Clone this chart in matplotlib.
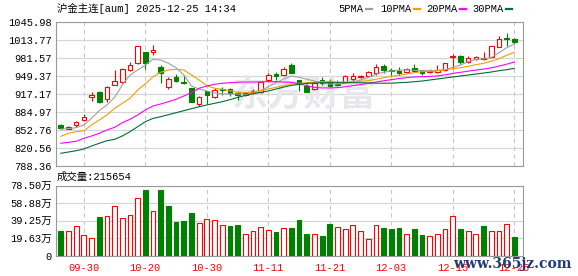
import numpy as np
import matplotlib.pyplot as plt
from matplotlib.lines import Line2D

plt.rcParams['font.family'] = ['Liberation Mono', 'Noto Sans CJK SC']
plt.rcParams['font.size'] = 7.5

# 沪金主连 日K
opens = [861.7, 855.1, 861.2, 870.1, 912.3, 921.3, 907.7, 933.3, 939.2, 960.1,
         972.1, 992.3, 991.5, 965.5, 930.2, 947.6, 939.2, 927.4, 898.8, 922.5,
         912.3, 926.6, 925.6, 918.4, 915.4, 920.7, 921.3, 942.8, 952.4, 950.6,
         969.0, 941.7, 932.0, 925.6, 942.2, 939.9, 935.0, 938.6, 944.5, 947.6,
         949.9, 955.3, 967.2, 960.1, 958.3, 956.5, 963.7, 959.6, 957.1, 957.1,
         960.1, 983.4, 985.2, 974.4, 979.8, 979.8, 982.8, 1001.9, 1017.5, 1015.6]
highs = [863.5, 859.9, 869.4, 881.4, 921.3, 923.1, 931.5, 960.1, 963.2, 974.4,
         1003.5, 993.0, 1004.8, 969.6, 948.1, 952.9, 951.2, 928.4, 913.1, 923.0,
         927.9, 930.2, 928.4, 923.1, 920.7, 926.1, 939.0, 954.2, 956.5, 966.0,
         972.1, 942.2, 935.0, 940.4, 947.6, 944.5, 942.2, 951.2, 954.2, 951.0,
         958.8, 970.8, 970.8, 963.2, 964.9, 963.2, 971.4, 960.1, 962.4, 969.0,
         972.5, 988.7, 987.5, 984.6, 985.2, 991.5, 1003.0, 1020.9, 1025.8, 1017.3]
lows = [854.0, 854.0, 858.7, 868.9, 905.2, 900.5, 903.4, 932.7, 936.9, 958.3,
        971.5, 962.4, 986.9, 936.3, 926.1, 938.1, 934.5, 902.9, 895.7, 899.3,
        910.5, 915.4, 914.1, 906.4, 913.6, 917.2, 919.5, 938.1, 941.7, 949.4,
        955.0, 923.1, 920.2, 924.9, 932.7, 930.2, 931.0, 936.9, 939.9, 945.8,
        948.1, 951.2, 955.3, 949.4, 951.7, 954.2, 956.5, 951.7, 954.2, 955.3,
        958.8, 962.4, 970.8, 973.2, 978.6, 978.6, 981.6, 1000.8, 1003.1, 1006.6]
closes = [856.9, 858.7, 867.1, 876.0, 915.4, 903.4, 929.7, 940.4, 961.4, 969.0,
          1003.0, 973.2, 996.4, 955.3, 943.5, 940.4, 937.4, 903.4, 911.8, 914.8,
          923.8, 924.3, 919.0, 914.8, 918.4, 922.5, 938.6, 951.2, 949.9, 962.4,
          955.3, 935.0, 921.3, 937.4, 936.3, 931.8, 932.5, 948.8, 949.4, 950.0,
          956.5, 964.9, 960.1, 957.8, 954.2, 962.4, 958.8, 954.2, 958.8, 960.1,
          972.1, 985.7, 974.4, 981.0, 982.8, 982.1, 1002.5, 1015.0, 1016.0, 1010.0]
pre_close = 860.0

# 成交量 (万)
vols = [28.3, 27.9, 33.6, 23.4, 20.0, 44.2, 44.9, 56.6, 42.6, 46.0,
        65.3, 73.6, 50.6, 73.6, 56.6, 38.5, 39.6, 48.7, 37.0, 41.5,
        40.4, 34.7, 34.0, 35.1, 24.5, 27.9, 32.5, 29.1, 27.2, 31.3,
        31.3, 40.8, 24.9, 24.5, 22.6, 36.2, 32.5, 30.2, 34.7, 27.9,
        18.9, 34.7, 31.3, 30.2, 31.3, 24.5, 30.2, 23.8, 22.3, 24.5,
        30.2, 44.9, 30.2, 27.9, 24.5, 34.0, 27.9, 27.9, 36.2, 21.5654]

ma5 = [854.3, 855.2, 856.9, 861.7, 873.6, 887.3, 897.5, 911.3, 933.3, 951.2,
       960.1, 969.0, 979.2, 978.0, 972.1, 964.2, 951.2, 931.5, 926.1, 922.5,
       919.0, 917.2, 917.2, 917.2, 916.0, 918.4, 923.1, 930.2, 937.4, 944.0,
       949.4, 947.0, 943.5, 940.4, 937.4, 935.0, 935.0, 936.3, 938.6, 942.2,
       947.0, 952.4, 956.0, 958.3, 959.6, 960.1, 959.6, 958.8, 958.8, 959.6,
       960.6, 964.9, 969.0, 974.9, 979.2, 980.3, 982.1, 991.0, 999.9, 1006.5]
ma10 = [841.5, 846.9, 849.7, 851.5, 861.7, 870.6, 879.6, 891.6, 900.5, 909.5,
        924.3, 935.1, 948.1, 956.0, 960.1, 961.4, 960.1, 951.2, 942.2, 932.0,
        927.4, 925.6, 923.1, 920.2, 919.5, 920.7, 923.1, 926.1, 929.1, 932.0,
        935.0, 936.3, 937.4, 938.6, 939.2, 939.9, 938.6, 938.6, 939.2, 939.9,
        941.0, 943.5, 946.3, 948.8, 950.6, 952.9, 955.3, 957.1, 957.8, 958.8,
        960.6, 962.4, 964.2, 966.7, 969.6, 972.1, 975.6, 980.3, 986.4, 991.7]
ma20 = [829.0, 830.8, 832.5, 837.9, 842.0, 846.9, 852.8, 857.6, 865.8, 871.9,
        879.6, 888.5, 895.7, 899.3, 903.4, 907.7, 913.6, 919.5, 927.4, 931.5,
        934.5, 936.3, 937.4, 938.1, 938.6, 938.6, 938.9, 939.2, 939.2, 938.6,
        938.1, 935.5, 932.0, 929.0, 928.0, 928.0, 928.5, 930.2, 932.0, 934.0,
        936.3, 938.6, 940.8, 942.8, 944.8, 946.5, 947.6, 948.1, 948.5, 949.5,
        951.5, 954.0, 956.0, 958.0, 960.0, 961.8, 964.0, 967.0, 970.5, 974.4]
ma30 = [811.1, 813.4, 815.7, 818.8, 824.1, 829.0, 833.6, 836.1, 842.0, 849.7,
        858.7, 867.6, 873.6, 876.6, 880.1, 883.7, 887.3, 890.9, 894.4, 897.5,
        900.5, 903.4, 907.0, 911.0, 914.5, 917.5, 920.0, 922.5, 926.0, 929.5,
        932.5, 934.5, 936.0, 936.8, 937.4, 937.4, 937.4, 937.4, 937.4, 937.4,
        937.0, 936.5, 936.5, 936.5, 937.4, 938.0, 939.2, 940.4, 942.2, 944.0,
        945.8, 947.6, 949.4, 951.2, 952.9, 954.7, 956.5, 958.8, 960.6, 963.1]

date_idx = [3, 11, 19, 27, 35, 43, 51, 59]
date_lbl = ['09-30', '10-20', '10-30', '11-11', '11-21', '12-03', '12-15', '12-25']
price_ticks = ['788.36', '820.56', '852.76', '884.97', '917.17',
               '949.37', '981.57', '1013.77', '1045.98']
vol_ticks = [0, 19.63, 39.25, 58.88, 78.50]

ma_names = ['5PMA', '10PMA', '20PMA', '30PMA']
ma_colors = ['#a0a0a0', '#f0a000', '#ff00ff', '#006e33']

RED = '#ff0000'
GRN = '#008000'
W, H = 578, 276


def box(l, t, r, b):
    return [l / W, 1 - b / H, (r - l) / W, (b - t) / H]


def style(a):
    for s in a.spines.values():
        s.set_color('#999999')
        s.set_linewidth(0.8)
    a.set_axisbelow(True)
    a.grid(axis='y', color='#d4d4d4', lw=0.8, ls='-')
    a.grid(axis='x', color='#c8c8c8', lw=0.8, ls=(0, (4, 3)))
    a.tick_params(length=0, pad=2.5, labelsize=7.5, colors='black')
    a.set_xlim(-0.69, 60.07)


def main():
    fig = plt.figure(figsize=(W / 100, H / 100), dpi=100)
    ax = fig.add_axes(box(55.5, 22, 522.5, 166))
    axv = fig.add_axes(box(55.5, 186, 522.5, 256))

    o = np.array(opens)
    h = np.array(highs)
    l = np.array(lows)
    c = np.array(closes)
    x = np.arange(len(c))
    up = c >= o

    # 水印
    ax.text(0.532, 0.49, '东方财富', transform=ax.transAxes, ha='center', va='center',
            fontsize=26, fontweight='bold', color='#e7e7ec', family='Noto Sans CJK SC',
            zorder=1)

    # K线
    col = np.where(up, RED, GRN)
    ax.vlines(x, l, h, colors=col, lw=0.8, zorder=2)
    body = np.maximum(np.abs(c - o), 0.3)
    ax.bar(x, body, bottom=np.minimum(o, c), width=0.6,
           facecolor=np.where(up, 'white', GRN), edgecolor=col, lw=0.8, zorder=3)

    for ma, cl in zip([ma5, ma10, ma20, ma30], ma_colors):
        ax.plot(x, ma, color=cl, lw=0.8, zorder=4)

    style(ax)
    ax.set_ylim(float(price_ticks[0]), float(price_ticks[-1]))
    ax.set_yticks([float(t) for t in price_ticks], price_ticks)
    ax.set_xticks(date_idx, [''] * len(date_idx))

    # 成交量
    prev = np.r_[pre_close, c[:-1]]
    vup = c >= prev
    vcol = np.where(vup, RED, GRN)
    axv.bar(x, vols, width=0.62, facecolor=np.where(vup, 'white', GRN),
            edgecolor=vcol, lw=0.8, zorder=3)
    style(axv)
    axv.set_ylim(0, vol_ticks[-1])
    axv.set_yticks(vol_ticks, ['0' if v == 0 else f'{v:.2f}万' for v in vol_ticks])
    axv.set_xticks(date_idx, date_lbl)
    axv.tick_params(axis='x', colors=RED, pad=5)

    # 标题 / 图例
    fig.text(57 / W, 1 - 9 / H, '沪金主连[aum] 2025-12-25 14:34', va='center', ha='left')
    fig.text(57 / W, 1 - 177 / H, '成交量:%d' % round(vols[-1] * 10000), va='center', ha='left')
    lx = [338, 380, 426, 472]
    for name, cl, x0 in zip(ma_names, ma_colors, lx):
        fig.text(x0 / W, 1 - 9 / H, name, va='center', ha='left')
        xe = x0 + len(name) * 6.25 + 3
        fig.add_artist(Line2D([xe / W, (xe + 6) / W], [1 - 9 / H, 1 - 9 / H],
                              color=cl, lw=1.6))

    fig.text(512 / W, 1 - 264 / H, 'www.365jz.com', ha='center', va='center',
             family='DejaVu Serif', fontweight='bold', fontsize=10, color='#1f3c78')

    fig.savefig('out.png', dpi=100, facecolor='white')


if __name__ == '__main__':
    main()
